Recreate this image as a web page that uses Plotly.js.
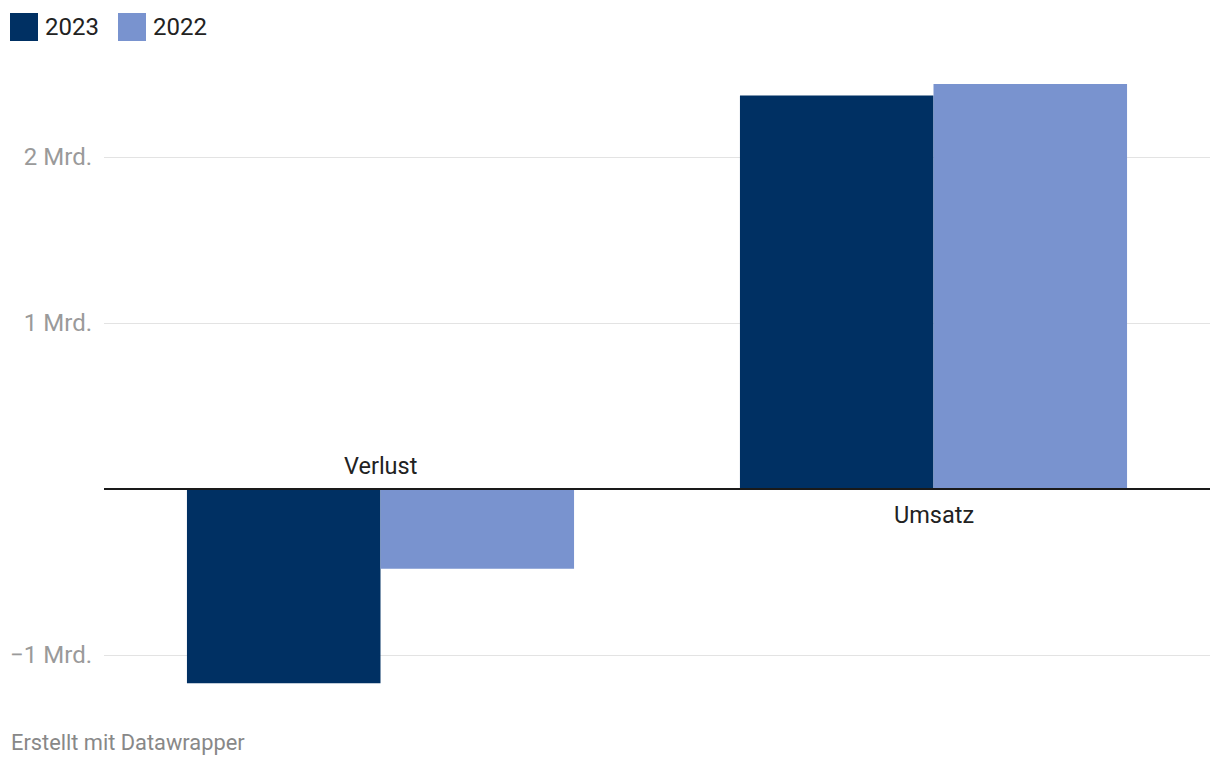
<!DOCTYPE html>
<html>
<head>
<meta charset="utf-8">
<script src="https://cdn.plot.ly/plotly-3.0.1.min.js"></script>
<style>html,body{margin:0;padding:0;background:#fff;}#chart{width:1220px;height:768px;}</style>
</head>
<body>
<div id="chart"></div>
<script>
// Data (values in Mrd. Euro)
const categories = ["Verlust", "Umsatz"];
const seriesNames = ["2023", "2022"];
const values2023 = [-1.17, 2.37];
const values2022 = [-0.48, 2.44];
const tickVals = [-1, 1, 2];
const tickLabels = ["\u22121 Mrd.", "1 Mrd.", "2 Mrd."];
const footer = "Erstellt mit Datawrapper";

const colors = ["#003063", "#7993cf"];
const W = 1220, H = 768;
const M = {l: 104, r: 10, t: 70, b: 68};
const pw = W - M.l - M.r, ph = H - M.t - M.b;
const px = x => (x - M.l) / pw;
const py = y => 1 - (y - M.t) / ph;
const font = "Roboto, 'Open Sans', sans-serif";

const traces = [values2023, values2022].map((vals, i) => ({
  type: "bar",
  name: seriesNames[i],
  x: categories,
  y: vals,
  marker: {color: colors[i], line: {width: 0}},
  hoverinfo: "none",
  showlegend: false
}));

const annotations = categories.map((c, i) => {
  const neg = (values2023[i] + values2022[i]) < 0;
  return {
    x: c, y: 0, xref: "x", yref: "y", text: c, showarrow: false,
    yanchor: neg ? "bottom" : "top", yshift: neg ? 7 : -10,
    font: {family: font, size: 23.5, color: "#222"}
  };
});

// legend items
const shapes = [];
const legX = [10, 118];
seriesNames.forEach((n, i) => {
  shapes.push({type: "rect", xref: "paper", yref: "paper",
    x0: px(legX[i]), x1: px(legX[i] + 28), y0: py(41), y1: py(13),
    fillcolor: colors[i], line: {width: 0}});
  annotations.push({xref: "paper", yref: "paper", x: px(legX[i] + 33), y: py(27),
    xanchor: "left", yanchor: "middle", text: n, showarrow: false,
    font: {family: font, size: 24, color: "#222"}});
});
annotations.push({xref: "paper", yref: "paper", x: px(9), y: py(742),
  xanchor: "left", yanchor: "middle", text: footer, showarrow: false,
  font: {family: font, size: 21.8, color: "#888"}});

// zero baseline
shapes.push({type: "line", xref: "paper", yref: "y", x0: 0, x1: 1, y0: 0, y1: 0,
  line: {color: "#1a1a1a", width: 2}, layer: "above"});

const layout = {
  width: W, height: H,
  margin: M,
  paper_bgcolor: "#fff", plot_bgcolor: "#fff",
  barmode: "group", bargap: 0.3, bargroupgap: 0,
  showlegend: false,
  xaxis: {range: [-0.5, 1.5], showticklabels: false, showgrid: false, zeroline: false, fixedrange: true},
  yaxis: {range: [(489 - (H - M.b)) / 166, (489 - M.t) / 166],
    tickvals: tickVals, ticktext: tickLabels, showgrid: true, gridcolor: "#e3e3e3", gridwidth: 1,
    zeroline: false, ticks: "", ticklabelstandoff: 11,
    tickfont: {family: font, size: 24, color: "#9a9a9a"}, fixedrange: true},
  shapes: shapes,
  annotations: annotations
};

Plotly.newPlot("chart", traces, layout, {displayModeBar: false, staticPlot: true});
</script>
</body>
</html>
